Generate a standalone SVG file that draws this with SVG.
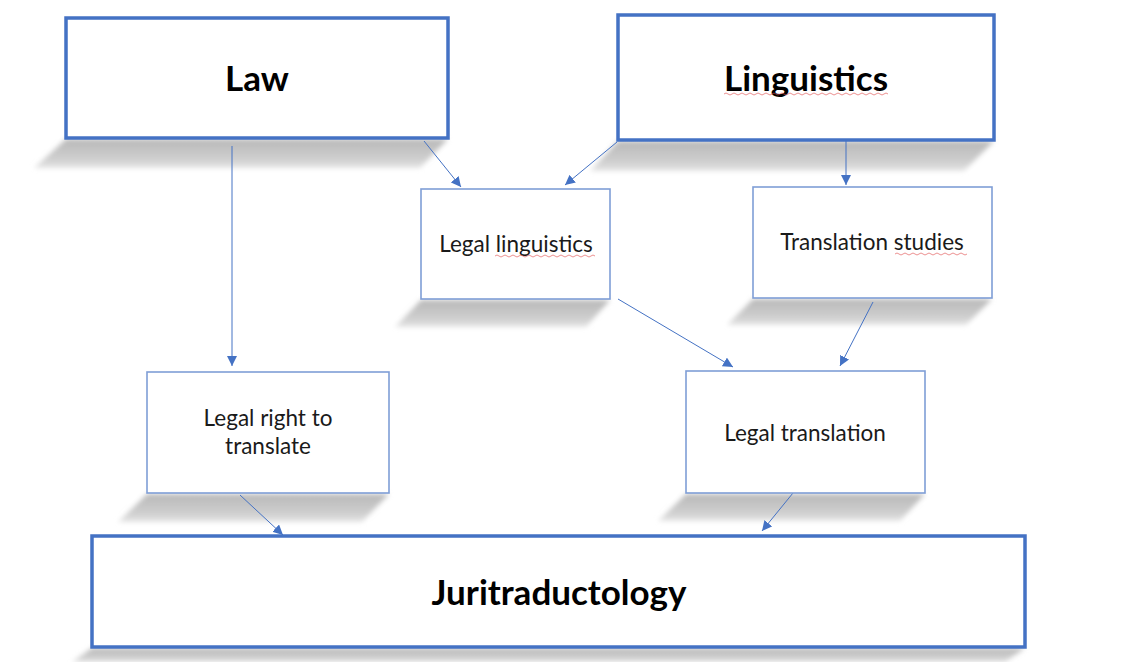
<svg xmlns="http://www.w3.org/2000/svg" width="1137" height="662" viewBox="0 0 1137 662">
<style>
  .big { fill: #fff; stroke: #4472C4; stroke-width: 3.5; }
  .small { fill: #fff; stroke: #7F9ED6; stroke-width: 1.6; }
  .shadow { fill: url(#shg); filter: url(#blur); }
  .t1 { font-family: Lato, "Open Sans", sans-serif; font-weight: bold; fill: #000; text-anchor: middle; font-size: 35px; }
  .t2 { font-family: Lato, "Open Sans", sans-serif; fill: #1a1a1a; text-anchor: middle; font-size: 22.5px; }
  .conn { stroke: #4472C4; stroke-width: 1; fill: none; marker-end: url(#arr); }
  .sq { stroke: #e05050; stroke-width: 0.9; fill: none; opacity: 0.7; }
</style>
<defs>
  <linearGradient id="shg" x1="0" y1="0" x2="0" y2="1">
    <stop offset="0" stop-color="#b8b8b8"/>
    <stop offset="0.7" stop-color="#cfcfcf"/>
    <stop offset="1" stop-color="#e6e6e6"/>
  </linearGradient>
  <filter id="blur" x="-10%" y="-30%" width="120%" height="160%">
    <feGaussianBlur stdDeviation="2.5"/>
  </filter>
  <marker id="arr" viewBox="0 0 10 10" refX="10" refY="5" markerWidth="10" markerHeight="10" markerUnits="userSpaceOnUse" orient="auto">
    <path d="M0,0 L10,5 L0,10 z" fill="#4472C4"/>
  </marker>
</defs>
<rect width="1137" height="662" fill="#fff"/>

<g id="shadows">
  <polygon class="shadow" points="66,139 448,139 420,168 34,168"/>
  <polygon class="shadow" points="618,141 994,141 964,171 590,171"/>
  <polygon class="shadow" points="421,300 610,300 586,327 395,327"/>
  <polygon class="shadow" points="753,299 992,299 966,325 727,325"/>
  <polygon class="shadow" points="147,494 389,494 362,522 118,522"/>
  <polygon class="shadow" points="686,494 925,494 900,521 658,521"/>
  <polygon class="shadow" points="92,648 1025,648 1005,662 72,662"/>
</g>

<g id="connectors">
  <line class="conn" x1="232" y1="146" x2="232" y2="366"/>
  <line class="conn" x1="424" y1="141" x2="461" y2="187"/>
  <line class="conn" x1="617" y1="142" x2="565" y2="185"/>
  <line class="conn" x1="846" y1="141" x2="846" y2="185"/>
  <line class="conn" x1="618" y1="299" x2="733" y2="367"/>
  <line class="conn" x1="873" y1="302" x2="840" y2="366"/>
  <line class="conn" x1="240" y1="495" x2="283" y2="535"/>
  <line class="conn" x1="793" y1="493" x2="762" y2="531"/>
</g>

<g id="law">
  <rect class="big" x="66" y="18" width="382" height="120"/>
  <text class="t1" x="257" y="91">Law</text>
</g>
<g id="linguistics">
  <rect class="big" x="618" y="15" width="376" height="125"/>
  <text class="t1" x="806" y="91">Linguistics</text>
  <path class="sq" d="M724,94 q2,-2 4,0 t4,0 t4,0 t4,0 t4,0 t4,0 t4,0 t4,0 t4,0 t4,0 t4,0 t4,0 t4,0 t4,0 t4,0 t4,0 t4,0 t4,0 t4,0 t4,0 t4,0 t4,0 t4,0 t4,0 t4,0 t4,0 t4,0 t4,0 t4,0 t4,0 t4,0 t4,0 t4,0 t4,0 t4,0 t4,0 t4,0 t4,0 t4,0 t4,0 t4,0"/>
</g>
<g id="legal-linguistics">
  <rect class="small" x="421" y="189" width="189" height="110"/>
  <text class="t2" x="516" y="252">Legal linguistics</text>
  <path class="sq" d="M495,256 q2,-2 4,0 t4,0 t4,0 t4,0 t4,0 t4,0 t4,0 t4,0 t4,0 t4,0 t4,0 t4,0 t4,0 t4,0 t4,0 t4,0 t4,0 t4,0 t4,0 t4,0 t4,0 t4,0 t4,0 t4,0 t4,0"/>
</g>
<g id="translation-studies">
  <rect class="small" x="753" y="187" width="239" height="111"/>
  <text class="t2" x="872" y="250">Translation studies</text>
  <path class="sq" d="M895,254 q2,-2 4,0 t4,0 t4,0 t4,0 t4,0 t4,0 t4,0 t4,0 t4,0 t4,0 t4,0 t4,0 t4,0 t4,0 t4,0 t4,0 t4,0 t4,0"/>
</g>
<g id="legal-right">
  <rect class="small" x="147" y="372" width="242" height="121"/>
  <text class="t2" x="268" y="426">Legal right to</text>
  <text class="t2" x="268" y="454">translate</text>
</g>
<g id="legal-translation">
  <rect class="small" x="686" y="371" width="239" height="122"/>
  <text class="t2" x="805" y="441">Legal translation</text>
</g>
<g id="juritraductology">
  <rect class="big" x="92" y="536" width="933" height="111"/>
  <text class="t1" x="559" y="605">Juritraductology</text>
</g>
</svg>
